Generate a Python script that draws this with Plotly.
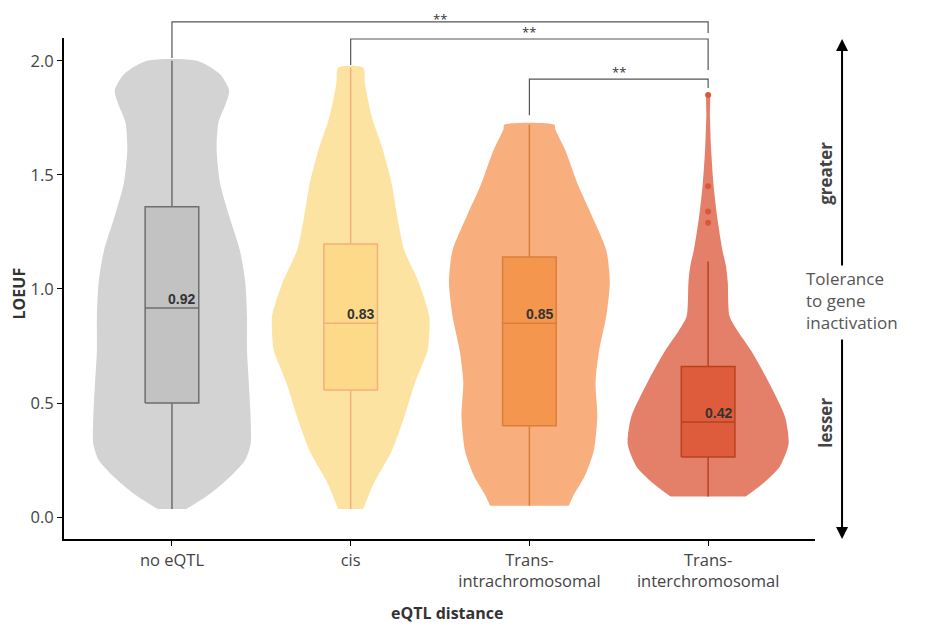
import plotly.graph_objects as go

categories = ["no eQTL", "cis", "Trans-<br>intrachromosomal", "Trans-<br>interchromosomal"]

# violin outlines: LOEUF level and half width (x units)
violin_y = [
    [0.035, 0.10, 0.18, 0.25, 0.32, 0.44, 0.59, 0.73, 0.88, 1.03, 1.17, 1.32, 1.46, 1.61, 1.73, 1.81, 1.87, 1.94, 2.0],
    [0.035, 0.15, 0.29, 0.44, 0.59, 0.73, 0.81, 0.88, 1.03, 1.17, 1.32, 1.46, 1.61, 1.75, 1.90, 1.97],
    [0.05, 0.10, 0.18, 0.29, 0.44, 0.59, 0.73, 0.88, 1.03, 1.17, 1.32, 1.46, 1.61, 1.70, 1.72],
    [0.09, 0.15, 0.22, 0.32, 0.44, 0.59, 0.73, 0.81, 0.88, 1.03, 1.10, 1.17, 1.32, 1.46, 1.61, 1.76, 1.85],
]
violin_hw = [
    [0.08, 0.21, 0.33, 0.41, 0.44, 0.44, 0.43, 0.42, 0.42, 0.41, 0.38, 0.32, 0.27, 0.25, 0.26, 0.30, 0.32, 0.27, 0.14],
    [0.07, 0.13, 0.23, 0.30, 0.36, 0.43, 0.44, 0.44, 0.38, 0.30, 0.26, 0.23, 0.18, 0.12, 0.08, 0.07],
    [0.22, 0.25, 0.31, 0.36, 0.38, 0.37, 0.39, 0.43, 0.45, 0.43, 0.35, 0.27, 0.20, 0.145, 0.14],
    [0.21, 0.31, 0.40, 0.45, 0.43, 0.34, 0.24, 0.17, 0.12, 0.11, 0.10, 0.08, 0.05, 0.03, 0.017, 0.01, 0.008],
]

# box statistics
q1 = [0.50, 0.557, 0.40, 0.263]
median = [0.917, 0.85, 0.85, 0.417]
q3 = [1.36, 1.197, 1.14, 0.66]
lower = [0.035, 0.035, 0.05, 0.09]
upper = [2.0, 1.97, 1.72, 1.12]
median_labels = ["0.92", "0.83", "0.85", "0.42"]

outliers_y = [1.85, 1.45, 1.34, 1.29]

# significance brackets: (left, right, star label)
brackets = [(0, 3, "**"), (1, 3, "**"), (2, 3, "**")]

violin_colors = ["#d3d3d3", "#fde3a2", "#f8af7d", "#e4806a"]
box_fill = ["#c2c2c2", "#fdda8a", "#f5964f", "#de5c3b"]
box_line = ["#6e6e6e", "#f3b07a", "#d97f3e", "#b9421f"]
box_half = 0.15

fig = go.Figure()

for i in range(len(categories)):
    ys = violin_y[i]
    hw = violin_hw[i]
    xs = [i + w for w in hw] + [i - w for w in reversed(hw)]
    yy = ys + list(reversed(ys))
    fig.add_trace(go.Scatter(
        x=xs, y=yy, fill="toself", mode="lines",
        line=dict(color=violin_colors[i], width=0, shape="spline", smoothing=0.7),
        fillcolor=violin_colors[i], hoverinfo="skip", showlegend=False,
    ))

# boxes drawn as scatter so they sit above the violin fills
for i in range(len(categories)):
    l, r = i - box_half, i + box_half
    fig.add_trace(go.Scatter(
        x=[i, i, None, i, i], y=[lower[i], q1[i], None, q3[i], upper[i]],
        mode="lines", line=dict(color=box_line[i], width=1.5), showlegend=False,
    ))
    fig.add_trace(go.Scatter(
        x=[l, r, r, l, l], y=[q1[i], q1[i], q3[i], q3[i], q1[i]],
        mode="lines", fill="toself", fillcolor=box_fill[i],
        line=dict(color=box_line[i], width=1.5), showlegend=False,
    ))
    fig.add_trace(go.Scatter(
        x=[l, r], y=[median[i], median[i]], mode="lines",
        line=dict(color=box_line[i], width=1.5), showlegend=False,
    ))

fig.add_trace(go.Scatter(
    x=[3] * len(outliers_y), y=outliers_y, mode="markers",
    marker=dict(color="#d9573a", size=6), showlegend=False,
))

annotations = []
for i, lab in enumerate(median_labels):
    annotations.append(dict(
        x=i, y=median[i], xref="x", yref="y", text="<b>%s</b>" % lab,
        showarrow=False, xanchor="center", yanchor="bottom", xshift=10, yshift=-1,
        font=dict(family="Liberation Sans", size=14, color="#333333"),
    ))

# bracket geometry in paper units (line level, left drop end, right drop end)
bracket_levels = [(1.032, 0.960, 1.010), (0.998, 0.946, 0.936), (0.918, 0.846, 0.900)]
star_shift = [2.5, 7, 7]
shapes = []
for (a, b, star), (lvl, ld, rd), sh in zip(brackets, bracket_levels, star_shift):
    shapes.append(dict(
        type="path", xref="x", yref="paper",
        path="M %s,%s L %s,%s L %s,%s L %s,%s" % (a, ld, a, lvl, b, lvl, b, rd),
        line=dict(color="#555555", width=1.2),
    ))
    annotations.append(dict(
        x=(a + b) / 2, y=lvl, xref="x", yref="paper", text=star, showarrow=False,
        yanchor="middle", yshift=sh, font=dict(size=13, color="#333333"),
    ))

# axis titles
annotations.append(dict(
    x=-0.06, y=0.49, xref="paper", yref="paper", text="<b>LOEUF</b>", textangle=-90,
    xanchor="center", yanchor="middle",
    showarrow=False, font=dict(size=16, color="#333333"),
))
annotations.append(dict(
    x=0.51, y=-0.148, xref="paper", yref="paper", text="<b>eQTL distance</b>",
    xanchor="center", yanchor="middle",
    showarrow=False, font=dict(size=16, color="#333333"),
))

# tolerance arrows and labels
annotations += [
    dict(x=1.036, y=0.998, xref="paper", yref="paper", ax=0, ay=228, text="",
         showarrow=True, arrowhead=2, arrowsize=1.2, arrowwidth=2, arrowcolor="#000000"),
    dict(x=1.036, y=0.0, xref="paper", yref="paper", ax=0, ay=-201, text="",
         showarrow=True, arrowhead=2, arrowsize=1.2, arrowwidth=2, arrowcolor="#000000"),
    dict(x=1.013, y=(539 - 173) / 501, xref="paper", yref="paper", text="<b>greater</b>",
         xanchor="center", yanchor="middle",
         textangle=-90, showarrow=False, font=dict(size=17, color="#444444")),
    dict(x=1.013, y=(539 - 423) / 501, xref="paper", yref="paper", text="<b>lesser</b>",
         xanchor="center", yanchor="middle",
         textangle=-90, showarrow=False, font=dict(size=17, color="#444444")),
    dict(x=0.985, y=(539 - 300) / 501, xref="paper", yref="paper",
         text="Tolerance<br>to gene<br>inactivation", align="left", xanchor="left",
         yanchor="middle", showarrow=False, font=dict(size=17, color="#555555")),
]

# the page body adds an 8px offset, so margins are shifted by that much
fig.update_layout(
    width=940, height=627,
    margin=dict(l=56, r=133, t=30, b=96),
    plot_bgcolor="white", paper_bgcolor="white",
    font=dict(family="Open Sans", size=16.5, color="#444444"),
    shapes=shapes, annotations=annotations, showlegend=False,
)
fig.update_xaxes(
    range=[-0.604, 3.598], tickvals=list(range(len(categories))), ticktext=categories,
    showline=True, linecolor="black", linewidth=2, ticks="outside", ticklen=5,
    tickcolor="black", showgrid=False, zeroline=False,
)
fig.update_yaxes(
    range=[-0.096, 2.10], tickvals=[0, 0.5, 1.0, 1.5, 2.0],
    ticktext=["0.0", "0.5", "1.0", "1.5", "2.0"],
    showline=True, linecolor="black", linewidth=2, ticks="outside", ticklen=5,
    tickcolor="black", showgrid=False, zeroline=False,
)

fig.write_html("out.html")
